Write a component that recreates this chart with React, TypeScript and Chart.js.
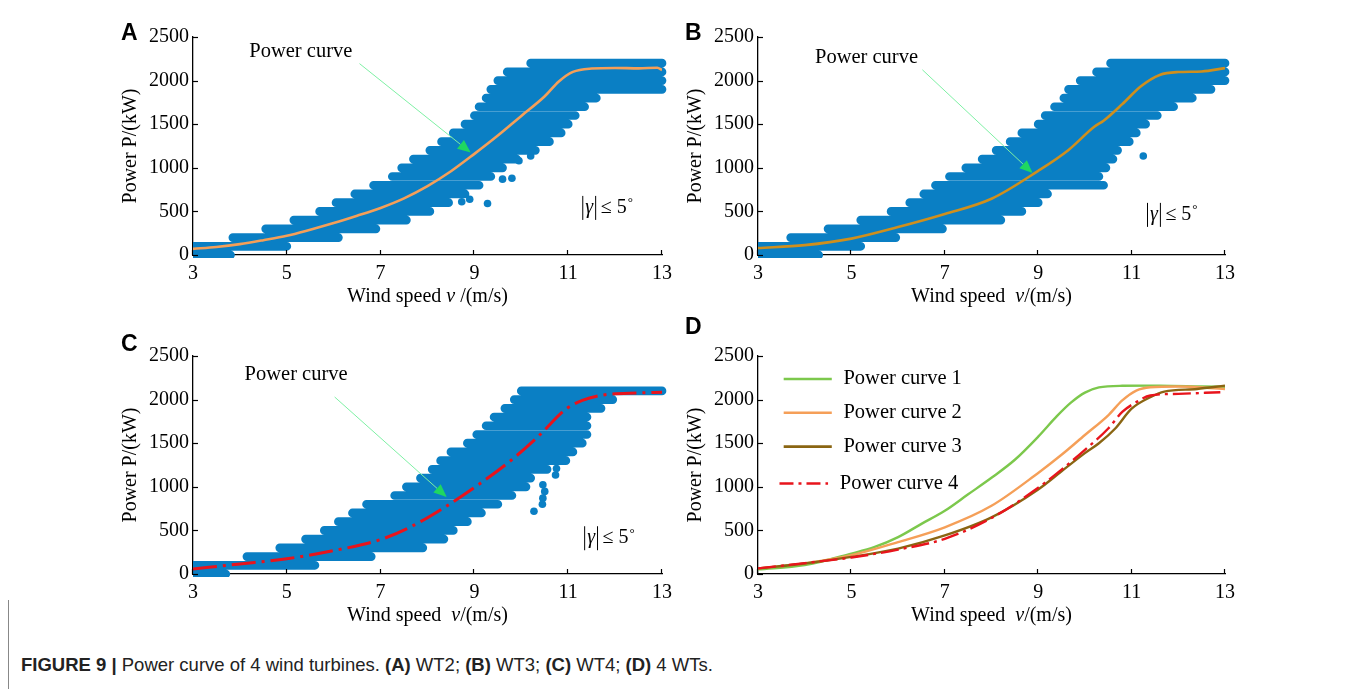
import React, { useEffect, useRef } from 'react';
import { Chart, registerables } from 'chart.js';
Chart.register(...registerables);

// ---------- DATA ----------
const xTicks = [3, 5, 7, 9, 11, 13];
const yTicks = [0, 500, 1000, 1500, 2000, 2500];

// power levels (kW) of the scatter stripes
const powerLevels = [0, 100, 200, 300, 400, 500, 600, 700, 800, 900, 1000, 1100, 1200, 1300, 1400, 1500, 1600, 1700, 1800, 1900, 2000, 2100, 2200];

// WT2 (A) scatter cloud: lowest / highest wind speed at each power level
const cloudA_lo = [3.0, 3.0, 3.85, 4.55, 5.15, 5.7, 6.05, 6.45, 6.85, 7.25, 7.45, 7.7, 8.05, 8.3, 8.55, 8.8, 9.0, 9.1, 9.25, 9.35, 9.5, 9.7, 10.2];
const cloudA_hi = [3.8, 5.0, 6.1, 6.9, 7.55, 8.05, 8.45, 8.8, 9.1, 9.35, 9.6, 9.9, 10.3, 10.6, 10.85, 11.0, 11.15, 11.35, 11.6, 13.0, 13.0, 13.0, 13.0];
const outliersA_v = [9.28, 9.6, 9.8, 8.73, 8.9, 9.95, 10.2];
const outliersA_p = [590, 870, 880, 610, 640, 1080, 1135];

// WT3 (B)
const cloudB_lo = [3.0, 3.0, 3.7, 4.5, 5.2, 5.85, 6.25, 6.55, 6.8, 7.1, 7.45, 7.8, 8.1, 8.4, 8.65, 9.0, 9.15, 9.35, 9.55, 9.65, 9.9, 10.25, 10.55];
const cloudB_hi = [4.3, 5.2, 5.95, 6.95, 8.2, 8.65, 9.0, 9.2, 10.4, 10.3, 10.45, 10.6, 10.7, 10.95, 11.1, 11.3, 11.55, 11.9, 12.3, 12.7, 13.0, 13.0, 13.0];
const outliersB_v = [11.25];
const outliersB_p = [1135];

// WT4 (C)
const cloudC_lo = [3.0, 3.0, 4.15, 4.85, 5.4, 5.8, 6.1, 6.4, 6.7, 7.3, 7.55, 7.85, 8.1, 8.28, 8.5, 8.85, 9.05, 9.25, 9.42, 9.65, 9.85, 10.0];
const cloudC_hi = [3.7, 5.6, 6.8, 7.9, 8.35, 8.55, 8.85, 9.15, 9.5, 9.8, 10.1, 10.2, 10.55, 10.95, 11.1, 11.3, 11.4, 11.4, 11.4, 11.7, 11.95, 13.0];
const outliersC_v = [10.46, 10.5, 10.46, 10.45, 10.27, 10.73, 10.75];
const outliersC_p = [1023, 947, 870, 800, 720, 1136, 1210];

// Power curves
const curveA_v = [3, 3.5, 4, 4.5, 5, 5.5, 6, 6.5, 7, 7.5, 8, 8.5, 9, 9.5, 10, 10.5, 10.8, 11.1, 11.5, 12, 12.5, 12.9, 13];
const curveA_p = [70, 92, 125, 170, 220, 290, 366, 450, 540, 650, 790, 960, 1160, 1370, 1595, 1820, 1990, 2100, 2138, 2145, 2140, 2148, 2122];

const curveB_v = [3, 4, 5, 6, 7, 8, 9, 9.65, 10.2, 10.4, 10.8, 11.2, 11.6, 12, 12.5, 13];
const curveB_p = [80, 113, 188, 320, 470, 645, 965, 1205, 1470, 1540, 1730, 1935, 2065, 2098, 2105, 2143];

const curveC_v = [3, 4, 5, 6, 7, 7.67, 8.4, 9.1, 9.75, 10.35, 10.95, 11.3, 11.75, 12.5, 13];
const curveC_p = [57, 115, 175, 268, 395, 549, 777, 1030, 1290, 1572, 1890, 1990, 2053, 2076, 2083];

const curve1_v = [3, 4, 5, 5.5, 6, 6.5, 7, 7.5, 8, 8.5, 9, 9.4, 9.7, 10, 10.3, 10.8, 11.6, 12.5, 13];
const curve1_p = [53, 102, 234, 310, 423, 575, 725, 914, 1103, 1310, 1575, 1810, 1965, 2080, 2140, 2158, 2160, 2150, 2145];
const curve2_v = [3, 4, 5, 6, 7, 8, 9, 9.5, 10, 10.5, 10.8, 11.1, 11.4, 12, 13];
const curve2_p = [64, 121, 215, 366, 536, 782, 1159, 1367, 1594, 1820, 1990, 2103, 2141, 2150, 2122];
const curve3_v = [3, 4, 5, 6, 7, 8, 9, 9.5, 10, 10.3, 10.65, 11, 11.4, 11.7, 12.4, 13];
const curve3_p = [64, 121, 196, 291, 442, 650, 970, 1178, 1386, 1499, 1669, 1896, 2028, 2092, 2122, 2160];
const curve4_v = [3, 4, 5, 6, 7, 8, 9, 9.5, 10, 10.5, 10.8, 11.1, 11.4, 12, 12.9];
const curve4_p = [64, 125, 189, 280, 404, 642, 989, 1197, 1424, 1669, 1858, 1971, 2047, 2066, 2085];

const legendLabels = ['Power curve 1', 'Power curve 2', 'Power curve 3', 'Power curve 4'];

// ---------- STYLE ----------
const BLUE = '#0a7fc4';
const ORANGE = '#f59f58';
const GOLD = '#cf8f1d';
const GREEN = '#7cc84c';
const BROWN = '#8a6512';
const RED = '#e8141c';
const SERIF = '"Liberation Serif", "Times New Roman", serif';

const PADL = 100, PADT = 40, PADR = 24, PADB = 64;

const pairs = (vs: number[], ps: number[]) => vs.map((v, i) => ({ x: v, y: ps[i] }));

function stripes(lo: number[], hi: number[]) {
  const out: any[] = [];
  for (let i = 0; i < lo.length; i++) {
    out.push({ x: lo[i], y: powerLevels[i] });
    out.push({ x: hi[i], y: powerLevels[i] });
    out.push({ x: hi[i], y: null });
  }
  return out;
}

function cloudDatasets(lo: number[], hi: number[], ov: number[], op: number[]) {
  return [
    {
      data: stripes(lo, hi), showLine: true, borderColor: BLUE, borderWidth: 8.7,
      borderCapStyle: 'round', pointRadius: 0, spanGaps: false, tension: 0,
      clip: { left: 0, right: 5, top: 10, bottom: 3 },
    },
    { data: pairs(ov, op), showLine: false, pointRadius: 3.8, pointBackgroundColor: BLUE, pointBorderWidth: 0 },
  ];
}

function curveDataset(vs: number[], ps: number[], color: string, width: number, dash?: number[]) {
  return {
    data: pairs(vs, ps), showLine: true, borderColor: color, borderWidth: width, pointRadius: 0,
    cubicInterpolationMode: 'monotone', borderDash: dash || [], borderCapStyle: 'butt',
  };
}

type Cfg = {
  titleParts: string[];
  label?: { v: number; p: number };
  arrow?: { v0: number; p0: number; v1: number; p1: number };
  gamma?: { v: number; p: number };
  legend?: { color: string; width: number; dash: number[]; v0: number; v1: number; vt: number; p: number }[];
};

function makePlugin(cfg: Cfg) {
  return {
    id: 'deco',
    afterDraw(chart: any) {
      const { ctx, chartArea: ca, scales } = chart;
      const x = scales.x, y = scales.y;
      ctx.save();
      // inward tick marks
      ctx.strokeStyle = '#000';
      ctx.lineWidth = 1.2;
      x.ticks.forEach((t: any) => {
        const px = Math.round(x.getPixelForValue(t.value)) - 0.5;
        ctx.beginPath(); ctx.moveTo(px, ca.bottom); ctx.lineTo(px, ca.bottom - 5); ctx.stroke();
      });
      y.ticks.forEach((t: any) => {
        const py = Math.round(y.getPixelForValue(t.value)) + 0.5;
        ctx.beginPath(); ctx.moveTo(ca.left, py); ctx.lineTo(ca.left + 5, py); ctx.stroke();
      });
      ctx.fillStyle = '#000';
      // x title (mixed italic)
      const fonts = [`20px ${SERIF}`, `italic 20px ${SERIF}`, `20px ${SERIF}`];
      let total = 0;
      const widths = cfg.titleParts.map((s, i) => { ctx.font = fonts[i]; const w = ctx.measureText(s).width; total += w; return w; });
      let cx = (ca.left + ca.right) / 2 - total / 2;
      ctx.textBaseline = 'middle';
      ctx.textAlign = 'left';
      cfg.titleParts.forEach((s, i) => { ctx.font = fonts[i]; ctx.fillText(s, cx, ca.bottom + 42); cx += widths[i]; });
      // y title
      ctx.save();
      ctx.translate(ca.left - 62, (ca.top + ca.bottom) / 2);
      ctx.rotate(-Math.PI / 2);
      ctx.textAlign = 'center';
      ctx.font = `20px ${SERIF}`;
      ctx.fillText('Power P/(kW)', 0, 0);
      ctx.restore();

      // annotation label + arrow
      if (cfg.label) {
        ctx.font = `20.5px ${SERIF}`;
        ctx.textAlign = 'left';
        ctx.fillText('Power curve', x.getPixelForValue(cfg.label.v), y.getPixelForValue(cfg.label.p));
      }
      if (cfg.arrow) {
        const a = cfg.arrow;
        const x0 = x.getPixelForValue(a.v0), y0 = y.getPixelForValue(a.p0);
        const x1 = x.getPixelForValue(a.v1), y1 = y.getPixelForValue(a.p1);
        const ang = Math.atan2(y1 - y0, x1 - x0);
        const L = 13, W = 5.5;
        const bx = x1 - L * Math.cos(ang), by = y1 - L * Math.sin(ang);
        ctx.strokeStyle = '#7ef0a4';
        ctx.lineWidth = 1;
        ctx.beginPath(); ctx.moveTo(x0, y0); ctx.lineTo(bx, by); ctx.stroke();
        ctx.fillStyle = '#1fd760';
        ctx.beginPath();
        ctx.moveTo(x1, y1);
        ctx.lineTo(bx + W * Math.sin(ang), by - W * Math.cos(ang));
        ctx.lineTo(bx - W * Math.sin(ang), by + W * Math.cos(ang));
        ctx.closePath(); ctx.fill();
        ctx.fillStyle = '#000';
      }
      if (cfg.gamma) {
        const gx = x.getPixelForValue(cfg.gamma.v), gy = y.getPixelForValue(cfg.gamma.p);
        ctx.strokeStyle = '#000'; ctx.lineWidth = 1;
        ctx.beginPath(); ctx.moveTo(gx + 0.5, gy - 12); ctx.lineTo(gx + 0.5, gy + 12); ctx.stroke();
        ctx.font = `italic 20px ${SERIF}`;
        ctx.textAlign = 'left';
        ctx.fillText('γ', gx + 3, gy);
        const gw = ctx.measureText('γ').width;
        const b2 = gx + 3 + gw + 2.5;
        ctx.beginPath(); ctx.moveTo(b2, gy - 12); ctx.lineTo(b2, gy + 12); ctx.stroke();
        ctx.font = `20px ${SERIF}`;
        ctx.fillText('≤ 5', b2 + 5, gy);
        const w5 = ctx.measureText('≤ 5').width;
        ctx.font = `13px ${SERIF}`;
        ctx.fillText('°', b2 + 5 + w5 + 1, gy - 5);
      }
      if (cfg.legend) {
        cfg.legend.forEach((it, i) => {
          const py = y.getPixelForValue(it.p);
          ctx.strokeStyle = it.color; ctx.lineWidth = it.width;
          ctx.setLineDash(it.dash);
          ctx.beginPath(); ctx.moveTo(x.getPixelForValue(it.v0), py); ctx.lineTo(x.getPixelForValue(it.v1), py); ctx.stroke();
          ctx.setLineDash([]);
          ctx.font = `20.5px ${SERIF}`;
          ctx.fillStyle = '#000';
          ctx.textAlign = 'left';
          ctx.fillText(legendLabels[i], x.getPixelForValue(it.vt), py);
        });
      }
      ctx.restore();
    },
  };
}

function baseOptions() {
  const tickFont = { family: SERIF, size: 20 };
  return {
    responsive: false,
    animation: false,
    events: [],
    layout: { padding: { top: PADT, right: PADR, left: 0, bottom: 0 } },
    plugins: { legend: { display: false }, tooltip: { enabled: false }, title: { display: false } },
    scales: {
      x: {
        type: 'linear', min: 3, max: 13,
        afterBuildTicks: (s: any) => { s.ticks = xTicks.map((v) => ({ value: v })); },
        ticks: { font: tickFont, color: '#000', padding: 7, maxRotation: 0, autoSkip: false, callback: (v: any) => String(v) },
        grid: { display: false, drawTicks: false },
        border: { display: true, color: '#000', width: 1.3 },
        afterFit: (s: any) => { s.height = PADB; },
      },
      y: {
        type: 'linear', min: 0, max: 2500,
        afterBuildTicks: (s: any) => { s.ticks = yTicks.map((v) => ({ value: v })); },
        ticks: { font: tickFont, color: '#000', padding: 4, autoSkip: false, callback: (v: any) => String(v) },
        grid: { display: false, drawTicks: false },
        border: { display: true, color: '#000', width: 1.3 },
        afterFit: (s: any) => { s.width = PADL; },
      },
    },
  };
}

const GEOM = [
  { left: 193, top: 37, w: 469, h: 218 },
  { left: 758, top: 37, w: 467, h: 218 },
  { left: 193, top: 356, w: 469, h: 218 },
  { left: 758, top: 356, w: 467, h: 218 },
];

const LETTERS = [
  { t: 'A', left: 121, top: 21 },
  { t: 'B', left: 685, top: 21 },
  { t: 'C', left: 121, top: 332 },
  { t: 'D', left: 685, top: 315 },
];

export default function App() {
  const refs = [useRef<HTMLCanvasElement>(null), useRef<HTMLCanvasElement>(null), useRef<HTMLCanvasElement>(null), useRef<HTMLCanvasElement>(null)];

  useEffect(() => {
    const titleA = ['Wind speed ', 'v', ' /(m/s)'];
    const titleB = ['Wind speed  ', 'v', '/(m/s)'];
    const specs: { datasets: any[]; cfg: Cfg }[] = [
      {
        datasets: [curveDataset(curveA_v, curveA_p, ORANGE, 2.6), ...cloudDatasets(cloudA_lo, cloudA_hi, outliersA_v, outliersA_p)],
        cfg: { titleParts: titleA, label: { v: 4.2, p: 2330 }, arrow: { v0: 6.55, p0: 2195, v1: 8.92, p1: 1175 }, gamma: { v: 11.3, p: 540 } },
      },
      {
        datasets: [curveDataset(curveB_v, curveB_p, GOLD, 2.6), ...cloudDatasets(cloudB_lo, cloudB_hi, outliersB_v, outliersB_p)],
        cfg: { titleParts: titleB, label: { v: 4.22, p: 2265 }, arrow: { v0: 6.52, p0: 2124, v1: 8.88, p1: 940 }, gamma: { v: 11.33, p: 460 } },
      },
      {
        datasets: [curveDataset(curveC_v, curveC_p, RED, 3, [24, 6, 3, 6]), ...cloudDatasets(cloudC_lo, cloudC_hi, outliersC_v, outliersC_p)],
        cfg: { titleParts: titleB, label: { v: 4.1, p: 2282 }, arrow: { v0: 6.02, p0: 2030, v1: 8.41, p1: 883 }, gamma: { v: 11.34, p: 410 } },
      },
      {
        datasets: [
          curveDataset(curve4_v, curve4_p, RED, 2.4, [18, 5, 3, 5]),
          curveDataset(curve3_v, curve3_p, BROWN, 2.4),
          curveDataset(curve2_v, curve2_p, ORANGE, 2.4),
          curveDataset(curve1_v, curve1_p, GREEN, 2.4),
        ],
        cfg: {
          titleParts: titleB,
          legend: [
            { color: GREEN, width: 2.6, dash: [], v0: 3.55, v1: 4.58, vt: 4.83, p: 2236 },
            { color: ORANGE, width: 2.6, dash: [], v0: 3.55, v1: 4.58, vt: 4.83, p: 1850 },
            { color: BROWN, width: 2.6, dash: [], v0: 3.55, v1: 4.58, vt: 4.83, p: 1461 },
            { color: RED, width: 2.6, dash: [14, 5, 3, 5], v0: 3.46, v1: 4.5, vt: 4.75, p: 1038 },
          ],
        },
      },
    ];
    const charts = specs.map((s, i) => {
      const canvas = refs[i].current!;
      return new Chart(canvas, {
        type: 'scatter',
        data: { datasets: s.datasets },
        options: baseOptions() as any,
        plugins: [makePlugin(s.cfg)],
      } as any);
    });
    return () => charts.forEach((c) => c.destroy());
  }, []);

  return (
    <div>
      <div style={{ position: 'absolute', left: 0, top: 0, width: 1354, height: 689, background: '#fff', overflow: 'hidden' }}>
        {GEOM.map((g, i) => (
          <canvas
            key={i}
            ref={refs[i]}
            width={g.w + PADL + PADR}
            height={g.h + PADT + PADB}
            style={{ position: 'absolute', left: g.left - PADL, top: g.top - PADT, width: g.w + PADL + PADR, height: g.h + PADT + PADB }}
          />
        ))}
        {LETTERS.map((l) => (
          <div key={l.t} style={{ position: 'absolute', left: l.left, top: l.top, font: 'bold 23px "Liberation Sans", Arial, sans-serif', lineHeight: 1, color: '#000' }}>
            {l.t}
          </div>
        ))}
        <div style={{ position: 'absolute', left: 8, top: 600, width: 1, height: 89, background: '#888' }} />
        <div style={{ position: 'absolute', left: 21, top: 656, font: '18.5px "Liberation Sans", Arial, sans-serif', lineHeight: 1, whiteSpace: 'pre', color: '#222' }}>
          <b>FIGURE 9 |</b> Power curve of 4 wind turbines. <b>(A)</b> WT2; <b>(B)</b> WT3; <b>(C)</b> WT4; <b>(D)</b> 4 WTs.
        </div>
      </div>
    </div>
  );
}
